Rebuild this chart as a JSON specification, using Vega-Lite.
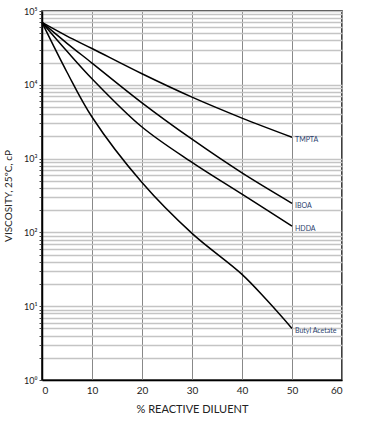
{
  "$schema": "https://vega.github.io/schema/vega-lite/v6.json",
  "width": 300,
  "height": 369,
  "autosize": {"type": "none"},
  "padding": {"left": 42, "top": 11, "right": 31, "bottom": 55},
  "background": "white",
  "config": {
    "font": "Lato",
    "view": {"stroke": "black", "strokeWidth": 1.5},
    "axis": {"labelFont": "Lato", "titleFont": "Lato", "labelColor": "#222", "titleColor": "#222"}
  },
  "data": {
    "values": [
      {"series": "TMPTA", "x": 0, "v": 70000},
      {"series": "TMPTA", "x": 5, "v": 45700},
      {"series": "TMPTA", "x": 10, "v": 31000},
      {"series": "TMPTA", "x": 20, "v": 14100},
      {"series": "TMPTA", "x": 30, "v": 6800},
      {"series": "TMPTA", "x": 40, "v": 3540},
      {"series": "TMPTA", "x": 50, "v": 1950},
      {"series": "IBOA", "x": 0, "v": 70000},
      {"series": "IBOA", "x": 5, "v": 36500},
      {"series": "IBOA", "x": 10, "v": 19700},
      {"series": "IBOA", "x": 20, "v": 5700},
      {"series": "IBOA", "x": 30, "v": 1830},
      {"series": "IBOA", "x": 40, "v": 640},
      {"series": "IBOA", "x": 50, "v": 248},
      {"series": "HDDA", "x": 0, "v": 70000},
      {"series": "HDDA", "x": 5, "v": 28500},
      {"series": "HDDA", "x": 10, "v": 12100},
      {"series": "HDDA", "x": 20, "v": 2680},
      {"series": "HDDA", "x": 30, "v": 890},
      {"series": "HDDA", "x": 40, "v": 330},
      {"series": "HDDA", "x": 50, "v": 122},
      {"series": "Butyl Acetate", "x": 0, "v": 70000},
      {"series": "Butyl Acetate", "x": 5, "v": 14800},
      {"series": "Butyl Acetate", "x": 10, "v": 3660},
      {"series": "Butyl Acetate", "x": 20, "v": 474},
      {"series": "Butyl Acetate", "x": 30, "v": 97},
      {"series": "Butyl Acetate", "x": 40, "v": 27},
      {"series": "Butyl Acetate", "x": 45, "v": 12},
      {"series": "Butyl Acetate", "x": 50, "v": 5}
    ]
  },
  "encoding": {
    "x": {
      "field": "x", "type": "quantitative",
      "scale": {"domain": [0, 60], "nice": false},
      "axis": {
        "values": [0, 10, 20, 30, 40, 50, 60],
        "title": "% REACTIVE DILUENT",
        "titleFontSize": 11, "titleFontWeight": "normal", "titlePadding": 8,
        "labelFontSize": 10, "labelPadding": 5,
        "grid": true, "gridColor": "#888", "gridWidth": 1,
        "ticks": false, "domainColor": "black", "domainWidth": 1.5
      }
    },
    "y": {
      "field": "v", "type": "quantitative",
      "scale": {"type": "log", "domain": [1, 100000], "nice": false},
      "axis": {
        "values": [1,2,3,4,5,6,7,8,9,10,20,30,40,50,60,70,80,90,100,200,300,400,500,600,700,800,900,1000,2000,3000,4000,5000,6000,7000,8000,9000,10000,20000,30000,40000,50000,60000,70000,80000,90000,100000],
        "labelExpr": "abs(round(log(datum.value)/LN10) - log(datum.value)/LN10) < 0.000001 ? '10' + ['⁰','¹','²','³','⁴','⁵'][round(log(datum.value)/LN10)] : ''",
        "title": "VISCOSITY, 25ºC, cP",
        "titleFontSize": 10, "titleFontWeight": "normal", "titlePadding": 10,
        "labelFontSize": 9, "labelPadding": 2,
        "grid": true, "gridColor": "#c4c4c4", "gridWidth": 1.5,
        "ticks": true, "tickSize": 3, "tickColor": "#444",
        "domainColor": "black", "domainWidth": 1.5
      }
    }
  },
  "layer": [
    {
      "mark": {"type": "line", "color": "black", "strokeWidth": 1.5, "interpolate": "catmull-rom"},
      "encoding": {"detail": {"field": "series"}}
    },
    {
      "transform": [{"filter": "datum.x == 50"}],
      "mark": {"type": "text", "align": "left", "baseline": "middle", "dx": 3, "dy": 3, "fontSize": 7, "color": "#2b3f6e"},
      "encoding": {"text": {"field": "series"}}
    }
  ]
}
